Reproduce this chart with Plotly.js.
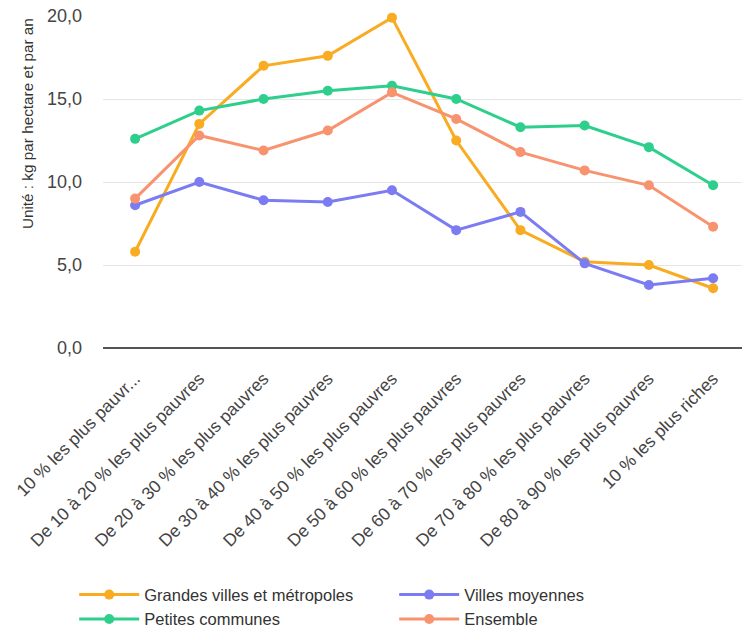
<!DOCTYPE html>
<html>
<head>
<meta charset="utf-8">
<script src="https://cdn.plot.ly/plotly-3.0.1.min.js"></script>
<style>html,body{margin:0;padding:0;background:#fff;}#chart{width:742px;height:631px;}</style>
</head>
<body>
<div id="chart"></div>
<script>
const categories = [
  "10 % les plus pauvr...",
  "De 10 à 20 % les plus pauvres",
  "De 20 à 30 % les plus pauvres",
  "De 30 à 40 % les plus pauvres",
  "De 40 à 50 % les plus pauvres",
  "De 50 à 60 % les plus pauvres",
  "De 60 à 70 % les plus pauvres",
  "De 70 à 80 % les plus pauvres",
  "De 80 à 90 % les plus pauvres",
  "10 % les plus riches"
];
const grandesVilles = [5.8, 13.5, 17.0, 17.6, 19.9, 12.5, 7.1, 5.2, 5.0, 3.6];
const villesMoyennes = [8.6, 10.0, 8.9, 8.8, 9.5, 7.1, 8.2, 5.1, 3.8, 4.2];
const petitesCommunes = [12.6, 14.3, 15.0, 15.5, 15.8, 15.0, 13.3, 13.4, 12.1, 9.8];
const ensemble = [9.0, 12.8, 11.9, 13.1, 15.4, 13.8, 11.8, 10.7, 9.8, 7.3];
const seriesNames = ["Grandes villes et métropoles", "Villes moyennes", "Petites communes", "Ensemble"];
const yTitle = "Unité : kg par hectare et par an";

const colors = ["#F9AB22", "#7B7CF2", "#2ECF8C", "#F8936F"];
const allSeries = [grandesVilles, villesMoyennes, petitesCommunes, ensemble];

const traces = allSeries.map((vals, i) => ({
  type: "scatter",
  mode: "lines+markers",
  x: categories,
  y: vals,
  name: seriesNames[i],
  line: {color: colors[i], width: 3},
  marker: {color: colors[i], size: 10},
  cliponaxis: false
}));

const layout = {
  width: 742, height: 631,
  margin: {l: 103, r: 0, t: 16, b: 283},
  paper_bgcolor: "#fff",
  plot_bgcolor: "#fff",
  font: {family: "Arial, 'Liberation Sans', sans-serif", color: "#333", size: 16},
  separators: ",.",
  showlegend: true,
  legend: {
    orientation: "h",
    xref: "container", yref: "container",
    x: 0.1, xanchor: "left",
    y: 0.085, yanchor: "top",
    entrywidth: 245,
    itemwidth: 60,
    font: {size: 16.5, color: "#333"},
    traceorder: "normal"
  },
  xaxis: {
    type: "category",
    range: [-0.5, 9.45],
    tickangle: -45,
    showgrid: false,
    zeroline: false,
    showline: false,
    ticks: "",
    ticklabelstandoff: 16,
    tickfont: {size: 17.5, color: "#444"},
    automargin: false
  },
  yaxis: {
    range: [0, 20],
    tickvals: [0, 5, 10, 15, 20],
    tickformat: ".1f",
    showgrid: true,
    gridcolor: "#e6e6e6",
    gridwidth: 1,
    zeroline: true,
    zerolinecolor: "#555",
    zerolinewidth: 2,
    ticks: "",
    ticklabelstandoff: 20,
    tickfont: {size: 18, color: "#444"},
    automargin: false
  },
  annotations: [{
    text: yTitle,
    xref: "paper", yref: "paper",
    x: -0.118, y: 1.0,
    xanchor: "center", yanchor: "top",
    textangle: -90,
    showarrow: false,
    font: {size: 15.3, color: "#333"}
  }]
};

Plotly.newPlot("chart", traces, layout, {displayModeBar: false, staticPlot: true});
</script>
</body>
</html>
